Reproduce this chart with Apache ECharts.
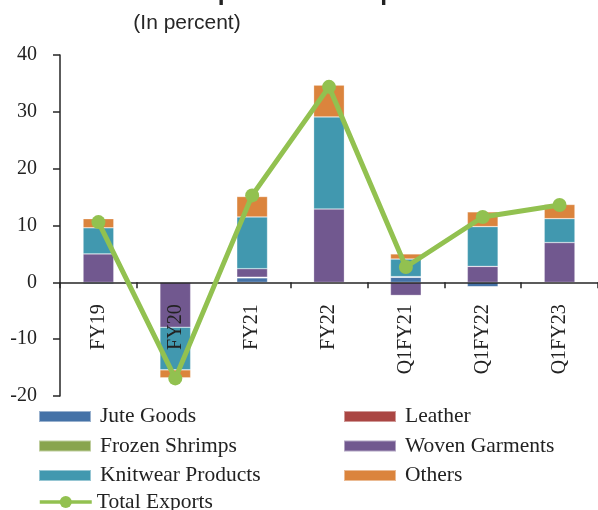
<!DOCTYPE html>
<html>
<head>
<meta charset="utf-8">
<script src="https://cdn.jsdelivr.net/npm/echarts@6/dist/echarts.min.js"></script>
<style>
  html, body { margin: 0; padding: 0; background: #ffffff; }
  #chart { width: 598px; height: 510px; }
</style>
</head>
<body>
<div id="chart"></div>
<script>
// Contribution of export items to total export growth, in percent
const categories = ['FY19', 'FY20', 'FY21', 'FY22', 'Q1FY21', 'Q1FY22', 'Q1FY23'];
const juteGoods = [-0.3, 0, 0.8, -0.1, 0.9, -0.8, -0.1];
const leather = [0, 0, 0, 0, 0, 0, 0];
const frozenShrimps = [0, 0, 0.1, 0, 0.1, 0, 0];
const wovenGarments = [5.0, -7.9, 1.5, 12.9, -2.3, 2.8, 7.0];
const knitwearProducts = [4.6, -7.5, 9.1, 16.2, 3.1, 7.0, 4.2];
const others = [1.6, -1.4, 3.6, 5.6, 0.9, 2.6, 2.5];
const totalExports = [10.6, -16.9, 15.3, 34.4, 2.7, 11.5, 13.6];
const yTicks = { min: -20, max: 40, step: 10 };

const serif = 'Liberation Serif, Times New Roman, serif';
const sans = 'Liberation Sans, Arial, sans-serif';
const ink = '#222222';

const gridBox = { left: 60, right: 0, top: 55, bottom: 114, height: 341 };
// the category axis sits on the zero line of the value axis
const zeroOffset = -gridBox.height * (0 - yTicks.min) / (yTicks.max - yTicks.min);

const barSeries = [
  ['Jute Goods', juteGoods, '#4572A7'],
  ['Leather', leather, '#AA4643'],
  ['Frozen Shrimps', frozenShrimps, '#89A54E'],
  ['Woven Garments', wovenGarments, '#71588F'],
  ['Knitwear Products', knitwearProducts, '#4198AF'],
  ['Others', others, '#DB843D']
].map(([name, data, color]) => ({
  name,
  type: 'bar',
  stack: 'items',
  data,
  barWidth: '40%',
  z: 2,
  itemStyle: { color, borderColor: 'rgba(255,255,255,0.45)', borderWidth: 0.6 },
  emphasis: { disabled: true }
}));

const legendBase = {
  orient: 'vertical',
  itemWidth: 52,
  itemHeight: 11,
  itemGap: 7.5,
  icon: 'rect',
  selectedMode: false,
  textStyle: { fontFamily: serif, fontSize: 21.5, color: ink, padding: [0, 0, 0, 4] },
  padding: 0
};

const chart = echarts.init(document.getElementById('chart'), null, { renderer: 'canvas' });
chart.setOption({
  animation: false,
  backgroundColor: '#ffffff',
  graphic: [
    {
      type: 'text', x: 163, y: -7, silent: true,
      style: { text: 'Composition of Export Growth', font: 'bold 24.6px ' + sans, fill: ink, align: 'left', verticalAlign: 'middle' }
    },
    {
      type: 'text', x: 187, y: 23, silent: true,
      style: { text: '(In percent)', font: '21px ' + sans, fill: '#262626', align: 'center', verticalAlign: 'middle' }
    }
  ],
  grid: { left: gridBox.left, right: gridBox.right, top: gridBox.top, bottom: gridBox.bottom, containLabel: false, outerBoundsMode: 'none' },
  legend: [
    Object.assign({}, legendBase, { left: 38, top: 405.5, data: ['Jute Goods', 'Frozen Shrimps', 'Knitwear Products'] }),
    Object.assign({}, legendBase, { left: 343, top: 405.5, data: ['Leather', 'Woven Garments', 'Others'] }),
    Object.assign({}, legendBase, {
      left: 38, top: 491, itemHeight: 15, icon: null,
      lineStyle: { width: 3.5 },
      textStyle: Object.assign({}, legendBase.textStyle, { padding: [0, 0, 0, 0] }),
      data: ['Total Exports']
    })
  ],
  xAxis: {
    type: 'category',
    data: categories,
    z: 3,
    offset: zeroOffset,
    axisLine: { onZero: false, lineStyle: { color: '#262626', width: 1.5 } },
    axisTick: { show: true, length: 6, lineStyle: { color: '#262626', width: 1.5 } },
    axisLabel: { rotate: 90, margin: 22, fontFamily: serif, fontSize: 20, color: ink }
  },
  yAxis: {
    type: 'value',
    min: yTicks.min,
    max: yTicks.max,
    interval: yTicks.step,
    z: 3,
    splitLine: { show: false },
    axisLine: { show: true, lineStyle: { color: '#262626', width: 1.5 } },
    axisTick: { show: true, length: 7, lineStyle: { color: '#262626', width: 1.5 } },
    axisLabel: { margin: 23, fontFamily: serif, fontSize: 20, color: ink }
  },
  series: barSeries.concat([{
    name: 'Total Exports',
    type: 'line',
    data: totalExports,
    z: 5,
    symbol: 'circle',
    symbolSize: 14,
    lineStyle: { color: '#92C150', width: 5 },
    itemStyle: { color: '#92C150' },
    emphasis: { disabled: true }
  }])
});
</script>
</body>
</html>
